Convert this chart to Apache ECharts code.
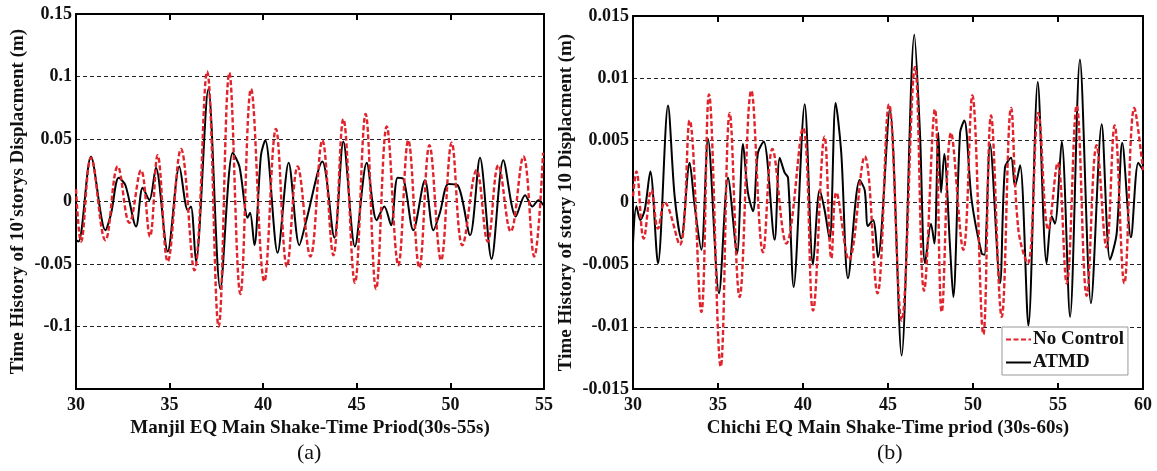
<!DOCTYPE html>
<html>
<head>
<meta charset="utf-8">
<script src="https://cdn.jsdelivr.net/npm/echarts@6/dist/echarts.min.js"></script>
<style>
html,body{margin:0;padding:0;background:#fff;}
#chart{width:1157px;height:471px;}
</style>
</head>
<body>
<div id="chart"></div>
<script>
// ---------- Panel (a): Manjil EQ ----------
const manjilNoCtrlT = [30.00,30.27,30.80,31.57,32.23,32.85,33.47,33.95,34.36,34.90,35.61,36.32,37.00,37.62,38.19,38.78,39.35,40.06,40.68,41.27,41.84,42.52,43.16,43.75,44.28,44.90,45.47,46.03,46.60,47.22,47.75,48.34,48.88,49.50,50.07,50.64,51.40,51.99,52.56,53.22,53.90,54.48,54.95];
const manjilNoCtrlV = [0.010,-0.032,0.035,-0.031,0.028,-0.017,0.025,-0.028,0.037,-0.048,0.042,-0.055,0.104,-0.100,0.103,-0.074,0.090,-0.064,0.058,-0.052,0.028,-0.044,0.049,-0.043,0.066,-0.065,0.070,-0.070,0.060,-0.051,0.049,-0.053,0.045,-0.047,0.047,-0.035,0.025,-0.032,0.029,-0.024,0.036,-0.044,0.039];
const manjilAtmdT = [30.00,30.14,30.80,31.57,31.87,32.28,32.64,33.21,33.56,33.92,34.27,34.90,35.52,35.97,36.14,36.41,37.07,37.71,38.37,38.73,39.17,39.30,39.53,39.88,40.11,40.77,41.36,41.93,42.29,43.16,43.80,44.28,44.90,45.53,46.06,46.47,46.83,47.18,47.49,48.02,48.64,49.09,49.44,49.89,50.39,51.05,51.58,52.20,52.83,53.49,53.99,54.38,54.70,54.97];
const manjilAtmdV = [-0.031,-0.032,0.036,-0.023,-0.010,0.019,0.013,-0.020,0.011,0.001,0.027,-0.040,0.028,-0.007,-0.004,-0.048,0.090,-0.070,0.039,0.028,-0.013,-0.009,-0.035,0.037,0.049,-0.041,0.031,-0.035,-0.016,0.032,-0.029,0.048,-0.036,0.031,-0.015,-0.004,-0.019,0.019,0.018,-0.023,0.017,-0.023,-0.009,0.014,0.013,-0.027,0.035,-0.046,0.033,-0.012,0.005,-0.004,0.001,-0.003];

// ---------- Panel (b): Chichi EQ ----------
const chichiNoCtrlT = [30.00,30.20,30.63,31.08,31.47,31.86,32.75,33.33,34.02,34.47,35.16,35.69,36.27,36.96,37.65,38.20,39.02,40.00,40.59,41.27,41.67,41.96,42.70,43.63,44.38,45.06,45.80,46.59,47.12,47.76,48.16,48.71,49.43,49.96,50.61,51.06,51.69,52.24,52.67,53.22,53.84,54.43,54.98,55.51,56.10,56.69,57.27,57.85,58.33,58.90,59.49,60.00];
const chichiNoCtrlV = [0.0005,0.0025,-0.0029,0.0010,-0.0021,0.0000,-0.0034,0.0066,-0.0088,0.0087,-0.0132,0.0072,-0.0076,0.0090,-0.0040,0.0043,-0.0033,0.0060,-0.0087,0.0053,-0.0045,0.0008,-0.0046,0.0037,-0.0073,0.0079,-0.0095,0.0109,-0.0071,0.0075,-0.0088,0.0056,-0.0038,0.0086,-0.0106,0.0070,-0.0092,0.0076,-0.0022,-0.0049,0.0072,-0.0022,0.0032,-0.0065,0.0078,-0.0075,0.0046,-0.0036,0.0062,-0.0065,0.0076,0.0026];
const chichiAtmdT = [30.00,30.20,30.43,30.69,31.02,31.47,32.06,32.45,32.84,33.33,33.63,34.02,34.41,35.06,35.59,36.12,36.47,36.76,37.06,37.35,37.69,38.33,38.63,38.92,39.12,39.45,40.10,40.59,40.98,41.27,41.57,41.92,42.25,42.65,43.33,43.63,43.82,44.12,44.41,45.11,45.80,46.55,46.88,47.18,47.53,47.73,47.96,48.12,48.31,48.65,48.84,49.24,49.49,49.92,50.51,50.67,51.00,51.59,51.88,52.24,52.47,52.77,53.26,53.81,54.33,54.63,54.82,55.22,55.71,56.29,56.94,57.57,58.06,58.45,58.78,59.29,59.72,60.00];
const chichiAtmdV = [-0.0033,-0.0003,-0.0014,-0.0006,0.0025,-0.0049,0.0078,0.0005,-0.0029,0.0032,-0.0003,-0.0038,0.0051,-0.0073,0.0020,-0.0041,0.0047,0.0008,-0.0007,0.0040,0.0049,-0.0030,0.0036,0.0024,0.0020,-0.0068,0.0079,-0.0050,0.0010,-0.0006,-0.0030,0.0080,0.0040,-0.0061,0.0018,0.0010,-0.0019,-0.0014,-0.0044,0.0075,-0.0123,0.0135,0.0056,-0.0049,-0.0017,-0.0033,0.0056,0.0008,0.0039,-0.0036,-0.0076,0.0056,0.0066,0.0002,-0.0041,-0.0042,0.0047,-0.0065,0.0028,0.0036,0.0013,0.0030,-0.0099,0.0097,-0.0049,-0.0011,-0.0017,0.0049,-0.0092,0.0115,-0.0081,0.0063,-0.0046,-0.0025,0.0048,-0.0028,0.0032,0.0026];

const seriesNames = ['No Control', 'ATMD'];
const xNames = ['Manjil EQ Main Shake-Time Priod(30s-55s)', 'Chichi EQ Main Shake-Time priod (30s-60s)'];
const yNames = ["Time History of 10'storys Displacment (m)", 'Time History of story 10 Displacment (m)'];
const captions = ['(a)', '(b)'];

function pairs(t, v) { return t.map((x, i) => [x, v[i]]); }

const FONT = "'Liberation Serif','Times New Roman',serif";
const tickText = { color: '#111', fontFamily: FONT, fontWeight: 'bold', fontSize: 18 };
const nameText = { color: '#111', fontFamily: FONT, fontWeight: 'bold', fontSize: 19 };

function xAxisDef(grid, min, max, name) {
  return [
    {
      gridIndex: grid, type: 'value', min: min, max: max, interval: 5, position: 'bottom',
      axisLine: { onZero: false, lineStyle: { color: '#000', width: 2 } },
      axisTick: { show: true, inside: true, length: 6, lineStyle: { color: '#000', width: 2 } },
      axisLabel: Object.assign({ margin: 7 }, tickText),
      splitLine: { show: false },
      name: name, nameLocation: 'middle', nameGap: 25,
      nameTextStyle: nameText
    },
    {
      gridIndex: grid, type: 'value', min: min, max: max, interval: 5, position: 'top',
      axisLine: { onZero: false, lineStyle: { color: '#000', width: 2 } },
      axisTick: { show: true, inside: true, length: 6, lineStyle: { color: '#000', width: 2 } },
      axisLabel: { show: false }, splitLine: { show: false }
    }
  ];
}

function yAxisDef(grid, lim, step, name, gap, hideMin) {
  return [
    {
      gridIndex: grid, type: 'value', min: -lim, max: lim, interval: step, position: 'left',
      axisLine: { onZero: false, lineStyle: { color: '#000', width: 2 } },
      axisTick: { show: false },
      axisLabel: Object.assign({
        margin: 4,
        formatter: function (v) {
          if (hideMin && v < -lim + step / 2) return '';
          return String(+v.toFixed(4));
        }
      }, tickText),
      splitLine: { show: true, lineStyle: { color: '#222', width: 1.2, type: [4, 3] } },
      name: name, nameLocation: 'middle', nameGap: gap,
      nameTextStyle: nameText
    },
    {
      gridIndex: grid, type: 'value', min: -lim, max: lim, interval: step, position: 'right',
      axisLine: { onZero: false, lineStyle: { color: '#000', width: 2 } },
      axisTick: { show: false }, axisLabel: { show: false }, splitLine: { show: false }
    }
  ];
}

const redStyle = { color: '#e1232b', width: 2.4, type: [5, 2.5] };
const blackStyle = { color: '#000', width: 2 };

const option = {
  animation: false,
  backgroundColor: '#fff',
  grid: [
    { left: 76, top: 14, width: 468, height: 375 },
    { left: 633, top: 16, width: 510, height: 373 }
  ],
  xAxis: [].concat(xAxisDef(0, 30, 55, xNames[0]), xAxisDef(1, 30, 60, xNames[1])),
  yAxis: [].concat(yAxisDef(0, 0.15, 0.05, yNames[0], 48, true), yAxisDef(1, 0.015, 0.005, yNames[1], 57, false)),
  legend: {
    show: true,
    data: [seriesNames[0], seriesNames[1]],
    orient: 'vertical', left: 1002, top: 327,
    backgroundColor: '#fff', borderColor: '#999', borderWidth: 1,
    padding: [3, 4, 3, 3], itemGap: 4, itemWidth: 25, itemHeight: 12,
    itemStyle: { opacity: 0 },
    textStyle: Object.assign({}, nameText, { padding: [0, 0, 0, -3] }),
    z: 10
  },
  graphic: [
    { type: 'text', left: 297, top: 442, style: { text: captions[0], font: "22px 'Liberation Serif', serif", fill: '#111' } },
    { type: 'text', left: 877, top: 442, style: { text: captions[1], font: "22px 'Liberation Serif', serif", fill: '#111' } }
  ],
  series: [
    { name: seriesNames[1], type: 'line', xAxisIndex: 0, yAxisIndex: 0, data: pairs(manjilAtmdT, manjilAtmdV), symbol: 'none', smooth: 0.3, lineStyle: blackStyle, itemStyle: { color: '#000' }, z: 2 },
    { name: seriesNames[0], type: 'line', xAxisIndex: 0, yAxisIndex: 0, data: pairs(manjilNoCtrlT, manjilNoCtrlV), symbol: 'none', smooth: 0.4, lineStyle: redStyle, itemStyle: { color: '#e1232b' }, z: 3 },
    { name: seriesNames[1], type: 'line', xAxisIndex: 2, yAxisIndex: 2, data: pairs(chichiAtmdT, chichiAtmdV), symbol: 'none', smooth: 0.3, lineStyle: blackStyle, itemStyle: { color: '#000' }, z: 2 },
    { name: seriesNames[0], type: 'line', xAxisIndex: 2, yAxisIndex: 2, data: pairs(chichiNoCtrlT, chichiNoCtrlV), symbol: 'none', smooth: 0.4, lineStyle: redStyle, itemStyle: { color: '#e1232b' }, z: 3 }
  ]
};

const chart = echarts.init(document.getElementById('chart'), null, { renderer: 'canvas' });
chart.setOption(option);
</script>
</body>
</html>
